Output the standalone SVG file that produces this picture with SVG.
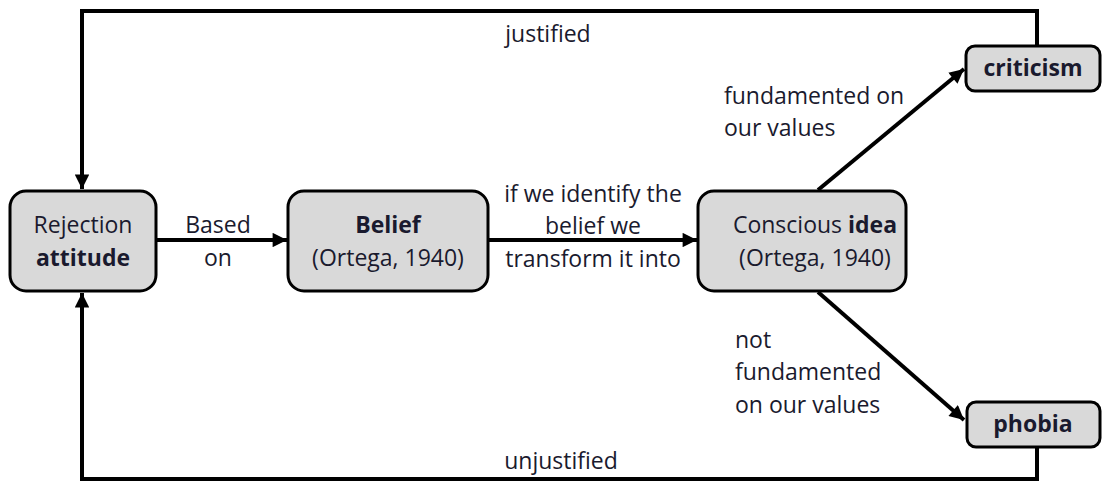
<svg xmlns="http://www.w3.org/2000/svg" width="1107" height="484" viewBox="0 0 1107 484">
<defs>
<marker id="ah" viewBox="0 0 10 10" refX="10" refY="5" markerWidth="3.8" markerHeight="3.6" orient="auto" markerUnits="strokeWidth">
<path d="M0,0 L10,5 L0,10 z" fill="#000"/>
</marker>
<style>
.box{fill:#d9d9d9;stroke:#000;stroke-width:3}
.ln{fill:none;stroke:#000;stroke-width:4}
.t{font-family:"Open Sans","Liberation Sans",sans-serif;font-size:23px;fill:#1a1a2e}
.c{text-anchor:middle}
.b{font-weight:bold}
</style>
</defs>
<rect width="1107" height="484" fill="#fff"/>
<g id="connectors">
<line class="ln" x1="156" y1="240" x2="287" y2="240" marker-end="url(#ah)"/>
<line class="ln" x1="488" y1="240" x2="697" y2="240" marker-end="url(#ah)"/>
<line class="ln" x1="818" y1="190" x2="964" y2="69" marker-end="url(#ah)"/>
<line class="ln" x1="818" y1="292" x2="964" y2="420" marker-end="url(#ah)"/>
<polyline class="ln" points="1037,45 1037,11 82,11 82,189" marker-end="url(#ah)"/>
<polyline class="ln" points="1037,447 1037,479 82,479 82,293" marker-end="url(#ah)"/>
<text class="t c" x="548" y="42">justified</text>
<text class="t c" x="561" y="469">unjustified</text>
<text class="t c" x="218" y="233">Based</text>
<text class="t c" x="218" y="266">on</text>
<text class="t c" x="593" y="202">if we identify the</text>
<text class="t c" x="593" y="234">belief we</text>
<text class="t c" x="593" y="267">transform it into</text>
<text class="t" x="724" y="104">fundamented on</text>
<text class="t" x="724" y="136">our values</text>
<text class="t" x="735" y="348">not</text>
<text class="t" x="735" y="380">fundamented</text>
<text class="t" x="735" y="413">on our values</text>
</g>
<g id="rejection">
<rect class="box" x="10" y="191" width="146" height="100" rx="16"/>
<text class="t c" x="83" y="233">Rejection</text>
<text class="t c b" x="83" y="266">attitude</text>
</g>
<g id="belief">
<rect class="box" x="288" y="191" width="200" height="100" rx="16"/>
<text class="t c b" x="388" y="233">Belief</text>
<text class="t c" x="388" y="266">(Ortega, 1940)</text>
</g>
<g id="idea">
<rect class="box" x="698" y="191" width="208" height="100" rx="16"/>
<text class="t c" x="815" y="233">Conscious <tspan class="b">idea</tspan></text>
<text class="t c" x="815" y="266">(Ortega, 1940)</text>
</g>
<g id="criticism">
<rect class="box" x="966" y="46" width="134" height="45" rx="9"/>
<text class="t c b" x="1033" y="76">criticism</text>
</g>
<g id="phobia">
<rect class="box" x="967" y="402" width="133" height="45" rx="9"/>
<text class="t c b" x="1033" y="432">phobia</text>
</g>
</svg>
